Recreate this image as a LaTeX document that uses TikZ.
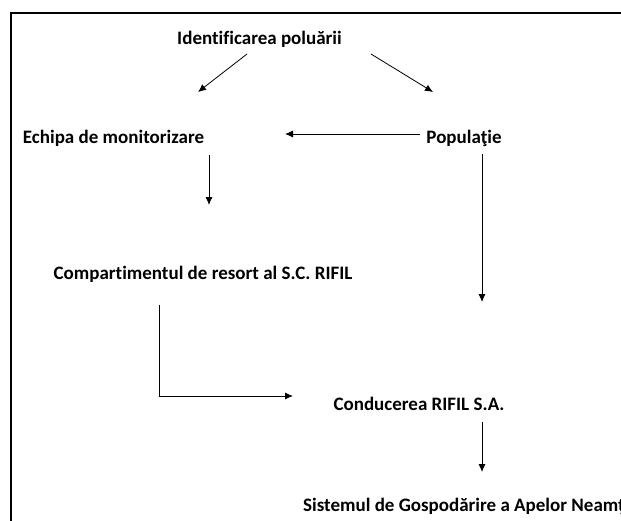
\documentclass[tikz,border=0pt]{standalone}
\usepackage{fontspec}
\setmainfont[Ligatures=NoCommon]{Carlito}
\usetikzlibrary{arrows.meta}

\tikzset{
  lbl/.style={anchor=base, font=\bfseries\fontsize{19}{22}\selectfont, inner sep=0pt},
  flow/.style={-{Latex[length=8pt,width=7pt]}, line width=0.8pt}
}

\begin{document}
\begin{tikzpicture}[x=1pt,y=-1pt]
  \useasboundingbox (0,0) rectangle (621,520);
  \draw[line width=1.7pt] (11,13) rectangle (660,560);

   \draw (259.5,44) node[lbl] (ident) {Identificarea poluării};
    \draw (113.5,143) node[lbl] (echipa) {Echipa de monitorizare};
    \draw (464,143) node[lbl] (pop) {Populaţie};
   \draw (203,279) node[lbl] (comp) {Compartimentul de resort al S.C. RIFIL};
    \draw (419,410) node[lbl] (cond) {Conducerea RIFIL S.A.};
    \draw (303,511) node[lbl,anchor=base west] (sist) {Sistemul de Gospodărire a Apelor Neamţ};

  % capete de sageti
  \coordinate (ident-l) at (247,54);
  \coordinate (ident-r) at (371,54);
  \coordinate (echipa-in) at (198,92);
  \coordinate (pop-in) at (433,92);
  \coordinate (pop-out) at (420,134);
  \coordinate (echipa-w) at (285,134);
  \coordinate (echipa-out) at (209,155);
  \coordinate (comp-in) at (209,205);
  \coordinate (pop-down) at (482,154);
  \coordinate (cond-up) at (482,302);
  \coordinate (comp-out) at (159,305);
  \coordinate (comp-corner) at (159,396);
  \coordinate (cond-in) at (293,396);
  \coordinate (cond-out) at (482,422);
  \coordinate (sist-in) at (482,472);

      \draw[flow] (ident-l) -- (echipa-in);
      \draw[flow] (ident-r) -- (pop-in);
      \draw[flow] (pop-out) -- (echipa-w);
      \draw[flow] (echipa-out) -- (comp-in);
      \draw[flow] (pop-down) -- (cond-up);
      \draw[flow] (comp-out) -- (comp-corner) -- (cond-in);
      \draw[flow] (cond-out) -- (sist-in);
\end{tikzpicture}
\end{document}
